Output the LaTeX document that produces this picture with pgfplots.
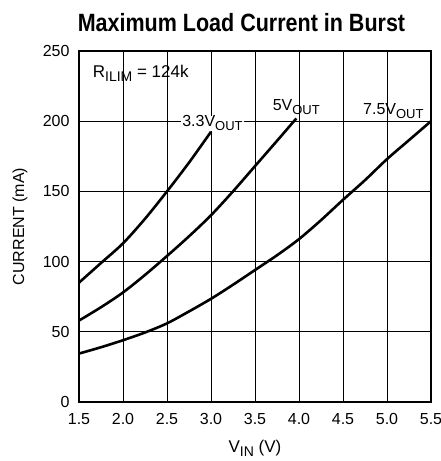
\documentclass[border=0pt]{standalone}
\usepackage{fontspec}
\setmainfont{Liberation Sans}
\newfontfamily\titlefont{Liberation Sans}[FakeStretch=0.86]
\usepackage{pgfplots}
\pgfplotsset{compat=1.18}
\newcommand{\sub}[2][13]{\raisebox{-4pt}{\fontsize{#1}{#1}\selectfont #2}}
\begin{document}
\begin{tikzpicture}
\begin{axis}[
  scale only axis, width=352pt, height=351pt,
  xmin=1.5, xmax=5.5, ymin=0, ymax=250,
  xtick={1.5,2.0,...,5.5}, ytick={0,50,...,250},
  xticklabels={1.5,2.0,2.5,3.0,3.5,4.0,4.5,5.0,5.5},
  /pgf/number format/assume math mode=true,
  tick style={draw=none},
  grid=major, major grid style={black, line width=0.8pt},
  axis line style={black, line width=1.4pt},
  ticklabel style={font=\fontsize{16}{16}\selectfont},
  xticklabel style={yshift=-8pt},
  yticklabel style={xshift=-6pt},
  clip=false,
]
\node[anchor=base west, font=\fontsize{16}{16}\selectfont, fill=white, inner xsep=1pt, inner ysep=0pt] at (axis cs:2.66,196) {3.3V\sub{OUT}};
\addplot[black, line width=2.6pt, smooth] coordinates {
 (1.5,85) (1.75,99) (2.0,113) (2.25,130.5) (2.5,150) (2.75,170.5) (3.0,192.5)};
\addplot[black, line width=2.6pt, smooth] coordinates {
 (1.5,58) (1.75,67.5) (2.0,78) (2.25,90.5) (2.5,104) (2.75,118) (3.0,133) (3.25,150) (3.5,168) (3.75,186) (3.97,202)};
\addplot[black, line width=2.6pt, smooth] coordinates {
 (1.5,34.5) (1.75,39) (2.0,44) (2.25,49.5) (2.5,56) (2.75,64.5) (3.0,73.5) (3.25,83.5) (3.5,94) (3.75,104.5) (4.0,116) (4.25,129.5) (4.5,144) (4.75,158) (5.0,173) (5.25,186.5) (5.5,200)};
\node[anchor=base west, font=\fontsize{17}{17}\selectfont, inner sep=0pt] at (axis cs:1.655,231) {R\sub[14]{ILIM} = 124k};
\node[anchor=base west, font=\fontsize{16}{16}\selectfont, inner sep=0pt] at (axis cs:3.70,207.5) {5V\sub{OUT}};
\node[anchor=base west, font=\fontsize{16}{16}\selectfont, inner sep=0pt] at (axis cs:4.727,205) {7.5V\sub{OUT}};
\node[anchor=base, yshift=19.3pt, font=\titlefont\bfseries\fontsize{25}{25}\selectfont] at (rel axis cs:0.4616,1) {Maximum Load Current in Burst};
\node[rotate=90, xshift=0pt, yshift=59pt, font=\fontsize{16}{16}\selectfont] at (rel axis cs:0,0.5) {CURRENT (mA)};
\node[anchor=base, yshift=-50pt, font=\fontsize{17}{17}\selectfont] at (rel axis cs:0.5,0) {V\sub[14]{IN} (V)};
\coordinate (SW) at (rel axis cs:0,0);
\coordinate (NE) at (rel axis cs:1,1);
\end{axis}
\pgfresetboundingbox
\path (SW) ++(-79pt,-59pt) rectangle (NE);
\path (NE) ++(10pt,51pt);
\useasboundingbox (SW) ++(-79pt,-59pt) -- (NE) -- ++(10pt,51pt);
\end{tikzpicture}
\end{document}
